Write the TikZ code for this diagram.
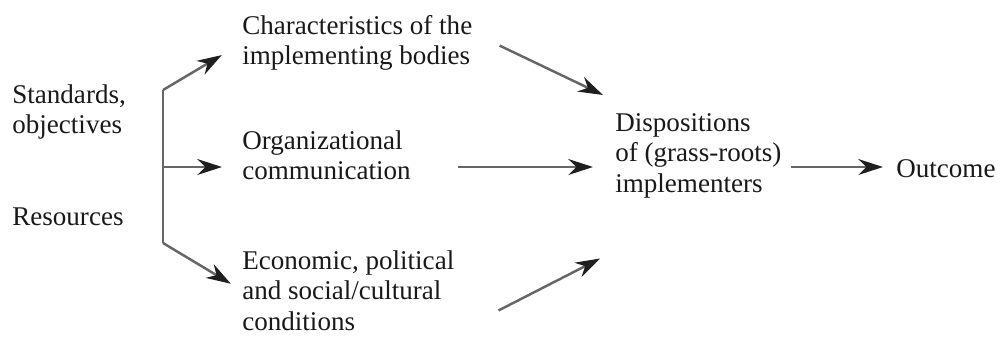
\documentclass[tikz,border=0pt]{standalone}
\usepackage{fontspec}
\setmainfont{Liberation Serif}
\usetikzlibrary{arrows.meta,positioning}

\begin{document}
\begin{tikzpicture}[x=0.02cm,y=-0.02cm,
  txt/.style={font=\fontsize{15.4}{17.4}\selectfont,text=black!90,inner sep=0pt,
              anchor=north west,align=left},
  ln/.style={draw=black!60,line width=1.4pt,line join=round},
  arr/.style={ln,-{Stealth[length=14pt,width=9pt,inset=4.5pt,color=black!88]}}]
\useasboundingbox (0,0) rectangle (1003,336);

% ---- sources (left) ----
\node[txt] (std) at (12,84) {Standards,\\objectives};
\node[txt] (res) at (12,207) {Resources};

% ---- intermediate factors ----
\node[txt] (char) at (242,15) {Characteristics of the\\implementing bodies};
\node[txt] (comm) at (242,130) {Organizational\\communication};
\node[txt] (econ) at (242,250) {Economic, political\\and social/cultural\\conditions};

% ---- dispositions and outcome ----
\node[txt] (disp) at (615,113) {Dispositions\\of (grass-roots)\\implementers};
\node[txt] (out) at (896,159) {Outcome};

% ---- trunk ----
\coordinate (ttop) at (163,90);
\coordinate (tmid) at (163,167);
\coordinate (tbot) at (163,243);
\draw[ln] (ttop) -- (tbot);

\draw[arr,shorten >=0.47cm] (ttop) -- (char.west);
\draw[arr,shorten >=0.4cm] (tmid) -- (tmid -| comm.west);
\draw[arr,shorten >=0.26cm] (tbot) -- (econ.west);

\draw[arr] ([shift={(27,2.5)}]char.east) -- ([shift={(-12,-18)}]disp.north west);
\draw[arr,shorten <=0.94cm,shorten >=0.44cm] (tmid -| comm.east) -- (tmid -| disp.west);
\draw[arr] ([shift={(44,20)}]econ.east) -- ([shift={(-15,60)}]disp.south west);
\draw[arr,shorten <=0.18cm,shorten >=0.26cm] (tmid -| disp.east) -- (tmid -| out.west);
\end{tikzpicture}
\end{document}
